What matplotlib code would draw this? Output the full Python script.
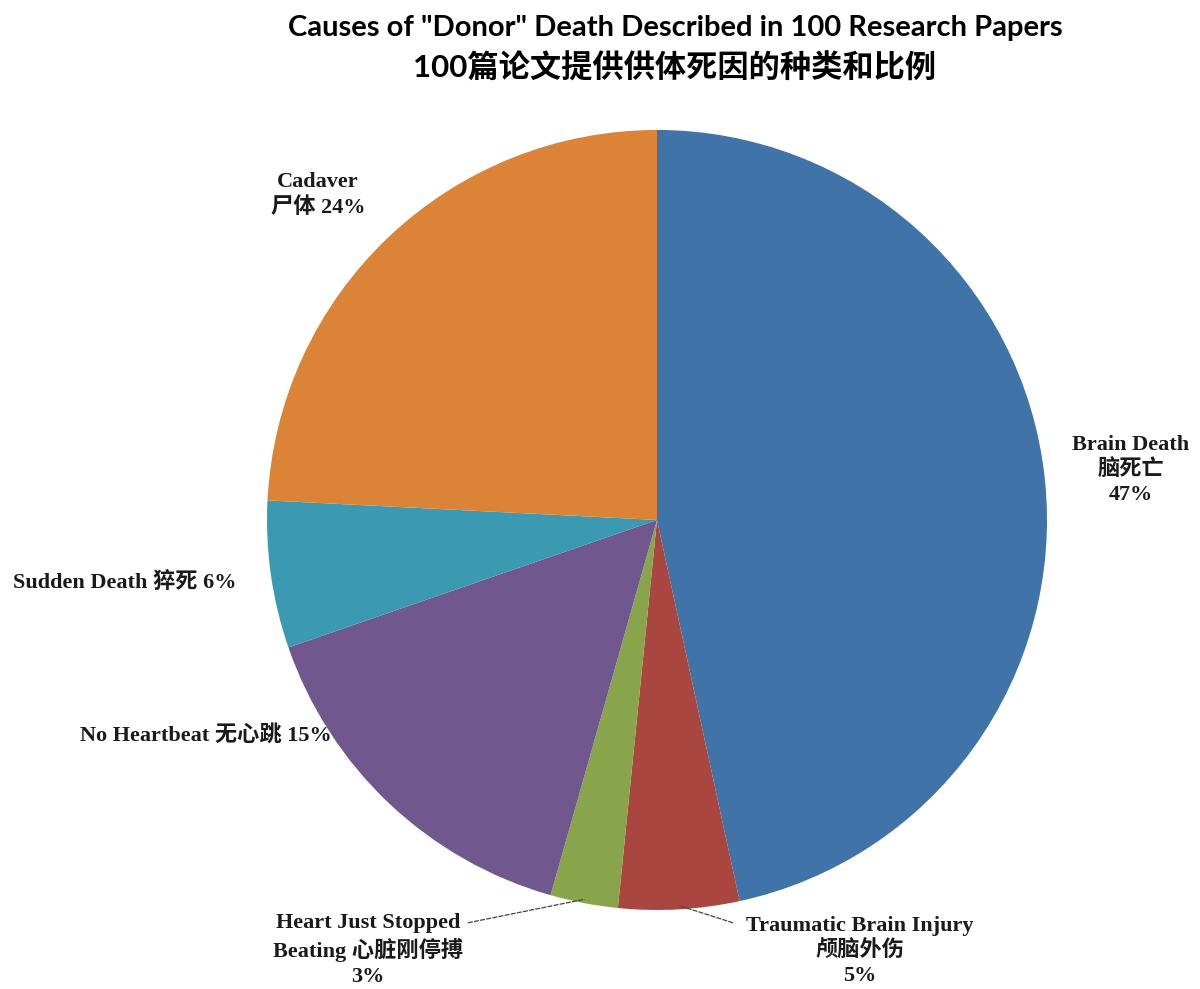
import matplotlib.pyplot as plt
import numpy as np

# data (slice sizes; labels show the rounded values)
labels = ['Brain Death\n脑死亡\n47%',
          'Traumatic Brain Injury\n颅脑外伤\n5%',
          'Heart Just Stopped\nBeating 心脏刚停搏\n3%',
          'No Heartbeat 无心跳 15%',
          'Sudden Death 猝死 6%',
          'Cadaver\n尸体 24%']
values = [46.6, 5.0, 2.8, 15.3, 6.1, 24.2]
colors = ['#4073a8', '#aa4640', '#89a54b', '#70578d', '#3b99b1', '#db8437']

# label placement (data units, pie radius = 1)
label_pos = [(1.215, 0.128), (0.521, -1.105), (-0.741, -1.102),
             (-1.156, -0.551), (-1.364, -0.159), (-0.869, 0.833)]
# where leader lines start (only for the two small slices)
leader_start = {1: (0.195, -1.033), 2: (-0.485, -1.033)}

label_font = ['Liberation Serif', 'Noto Sans CJK SC']
title_font = ['Lato', 'Noto Sans CJK SC']

fig = plt.figure(figsize=(12, 9.89), dpi=100)
ax = fig.add_axes([0.2225, 0.0799, 0.65, 0.7887])

wedges, _ = ax.pie(values, colors=colors, startangle=90, counterclock=False,
                   radius=1, wedgeprops=dict(linewidth=0))
ax.set_xlim(-1, 1)
ax.set_ylim(-1, 1)
ax.set_aspect('equal')
ax.axis('off')

for i, (txt, (x, y)) in enumerate(zip(labels, label_pos)):
    ax.text(x, y, txt, ha='center', va='center', fontsize=16, fontweight='bold',
            family=label_font, linespacing=1.3, color='#1a1a1a')
    if i in leader_start:
        w = wedges[i]
        mid = np.deg2rad((w.theta1 + w.theta2) / 2)
        ex, ey = np.cos(mid) * 0.99, np.sin(mid) * 0.99
        sx, sy = leader_start[i]
        ax.plot([sx, ex], [sy, ey], color='#444444', lw=0.9, ls=(0, (4, 1)),
                clip_on=False)

fig.text(0.5625, 0.972, 'Causes of "Donor" Death Described in 100 Research Papers',
         ha='center', va='center', fontsize=21, fontweight='bold', family=title_font)
fig.text(0.5625, 0.932, '100篇论文提供供体死因的种类和比例',
         ha='center', va='center', fontsize=22.5, fontweight='bold', family=title_font)

fig.savefig('out.png', dpi=100, facecolor='white')
